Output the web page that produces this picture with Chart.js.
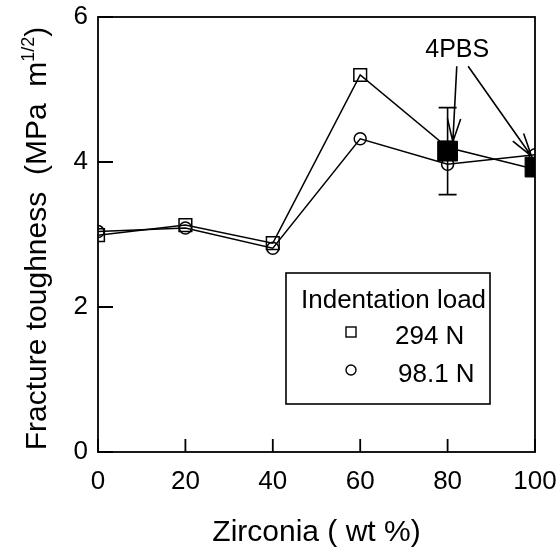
<!DOCTYPE html>
<html>
<head>
<meta charset="UTF-8">
<title>Fracture toughness vs zirconia</title>
<script src="https://cdn.jsdelivr.net/npm/chart.js"></script>
<style>
html, body { margin: 0; padding: 0; background: #fff; }
canvas { display: block; }
</style>
</head>
<body>
<canvas id="chart" width="559" height="549"></canvas>
<script>
// values
const zirconia = [0, 20, 40, 60, 80, 100];
const load294 = [2.99, 3.13, 2.88, 5.2, 4.2, 3.9];
const load98 = [3.04, 3.09, 2.81, 4.32, 3.97, 4.1];
const pbsZirconia = [80, 100];
const pbsToughness = [4.15, 3.93];
const pbsError = [0.6, 0];
const xTicks = [0, 20, 40, 60, 80, 100];
const yTicks = [0, 2, 4, 6];
const legendLabels = ["294 N", "98.1 N"];

const FONT = '"Liberation Sans", Arial, sans-serif';

// "4PBS" note, in data units
const pbsNote = { text: "4PBS", x: 82.2, y: 5.54 };
const pbsArrows = [
  { from: [82.1, 5.32], to: [81.2, 4.28] },
  { from: [84.7, 5.32], to: [99.2, 4.08] }
];

function pts(xs, ys) {
  return xs.map((x, i) => ({ x, y: ys[i] }));
}

function arrow(ctx, x1, y1, x2, y2) {
  const a = Math.atan2(y2 - y1, x2 - x1);
  const len = 24, spread = 0.28;
  ctx.beginPath();
  ctx.moveTo(x1, y1);
  ctx.lineTo(x2, y2);
  ctx.moveTo(x2 - len * Math.cos(a - spread), y2 - len * Math.sin(a - spread));
  ctx.lineTo(x2, y2);
  ctx.lineTo(x2 - len * Math.cos(a + spread), y2 - len * Math.sin(a + spread));
  ctx.stroke();
}

const decorations = {
  id: "decorations",
  beforeDatasetsDraw(chart) {
    const { ctx, scales: { x, y } } = chart;
    ctx.save();
    ctx.strokeStyle = "#000";
    ctx.lineWidth = 1.6;
    pbsZirconia.forEach((v, i) => {
      if (!pbsError[i]) return;
      const px = x.getPixelForValue(v);
      const top = y.getPixelForValue(pbsToughness[i] + pbsError[i]);
      const bot = y.getPixelForValue(pbsToughness[i] - pbsError[i]);
      ctx.beginPath();
      ctx.moveTo(px, top); ctx.lineTo(px, bot);
      ctx.moveTo(px - 9, top); ctx.lineTo(px + 9, top);
      ctx.moveTo(px - 9, bot); ctx.lineTo(px + 9, bot);
      ctx.stroke();
    });
    ctx.restore();
  },
  afterDraw(chart) {
    const { ctx, chartArea: a, scales: { x, y } } = chart;
    ctx.save();
    ctx.strokeStyle = "#000";
    ctx.fillStyle = "#000";

    // frame and inward ticks
    ctx.lineWidth = 1.8;
    ctx.strokeRect(a.left, a.top, a.right - a.left, a.bottom - a.top);
    ctx.beginPath();
    xTicks.forEach(t => {
      const px = x.getPixelForValue(t);
      ctx.moveTo(px, a.bottom); ctx.lineTo(px, a.bottom - 13);
    });
    yTicks.forEach(t => {
      const py = y.getPixelForValue(t);
      ctx.moveTo(a.left, py); ctx.lineTo(a.left + 15, py);
    });
    ctx.stroke();

    // 4PBS note with arrows
    ctx.lineWidth = 1.6;
    ctx.font = "25px " + FONT;
    ctx.textAlign = "center";
    ctx.textBaseline = "middle";
    ctx.fillText(pbsNote.text, x.getPixelForValue(pbsNote.x), y.getPixelForValue(pbsNote.y));
    pbsArrows.forEach(r => {
      arrow(ctx, x.getPixelForValue(r.from[0]), y.getPixelForValue(r.from[1]),
        x.getPixelForValue(r.to[0]), y.getPixelForValue(r.to[1]));
    });

    // legend box
    ctx.lineWidth = 1.6;
    ctx.strokeRect(286, 273, 204, 131);
    ctx.textAlign = "left";
    ctx.textBaseline = "alphabetic";
    ctx.font = "26px " + FONT;
    ctx.fillText("Indentation load", 301, 308);
    ctx.lineWidth = 1.4;
    ctx.strokeRect(346, 327, 10, 10);
    ctx.beginPath();
    ctx.arc(351, 370, 5, 0, Math.PI * 2);
    ctx.stroke();
    ctx.textBaseline = "middle";
    ctx.fillText(legendLabels[0], 395, 337);
    ctx.fillText(legendLabels[1], 398, 375);

    // axis titles
    ctx.font = "30px " + FONT;
    ctx.textAlign = "center";
    ctx.textBaseline = "alphabetic";
    ctx.fillText("Zirconia ( wt %)", (a.left + a.right) / 2, 541);

    const main = "Fracture toughness  (MPa  m";
    const sup = "1/2";
    const close = ")";
    const supFont = "18px " + FONT;
    const w1 = ctx.measureText(main).width;
    ctx.font = supFont;
    const w2 = ctx.measureText(sup).width;
    ctx.font = "30px " + FONT;
    const w3 = ctx.measureText(close).width;
    const total = w1 + w2 + w3;
    ctx.translate(46, (a.top + a.bottom) / 2 + 4);
    ctx.rotate(-Math.PI / 2);
    ctx.textAlign = "left";
    let cx = -total / 2;
    ctx.fillText(main, cx, 0);
    cx += w1;
    ctx.font = supFont;
    ctx.fillText(sup, cx, -12);
    cx += w2;
    ctx.font = "30px " + FONT;
    ctx.fillText(close, cx, 0);

    ctx.restore();
  }
};

new Chart(document.getElementById("chart"), {
  type: "scatter",
  data: {
    datasets: [
      {
        label: "4PBS",
        data: pts(pbsZirconia, pbsToughness),
        pointStyle: "rect",
        pointRadius: 14,
        backgroundColor: "#000",
        borderColor: "#000",
        showLine: false,
        order: 0
      },
      {
        label: legendLabels[0],
        data: pts(zirconia, load294),
        pointStyle: "rect",
        pointRadius: 9,
        backgroundColor: "rgba(0,0,0,0)",
        borderColor: "#000",
        borderWidth: 1.5,
        pointBorderWidth: 1.5,
        showLine: true,
        order: 1
      },
      {
        label: legendLabels[1],
        data: pts(zirconia, load98),
        pointStyle: "circle",
        pointRadius: 6,
        backgroundColor: "rgba(0,0,0,0)",
        borderColor: "#000",
        borderWidth: 1.5,
        pointBorderWidth: 1.5,
        showLine: true,
        order: 2
      }
    ]
  },
  options: {
    responsive: false,
    animation: false,
    devicePixelRatio: 1,
    layout: { padding: { left: 0, right: 24, top: 17, bottom: 0 } },
    plugins: { legend: { display: false }, tooltip: { enabled: false } },
    scales: {
      x: {
        type: "linear",
        min: 0,
        max: 100,
        afterFit: s => { s.height = 97; s.paddingLeft = 0; s.paddingRight = 0; },
        afterBuildTicks: s => { s.ticks = xTicks.map(v => ({ value: v })); },
        grid: { display: false, drawTicks: false },
        border: { display: false },
        ticks: { color: "#000", padding: 14, maxRotation: 0, font: { family: FONT, size: 26 } }
      },
      y: {
        min: 0,
        max: 6,
        afterFit: s => { s.width = 98; s.paddingTop = 0; s.paddingBottom = 0; },
        afterBuildTicks: s => { s.ticks = yTicks.map(v => ({ value: v })); },
        grid: { display: false, drawTicks: false },
        border: { display: false },
        ticks: { color: "#000", padding: 10, font: { family: FONT, size: 26 } }
      }
    }
  },
  plugins: [decorations]
});
</script>
</body>
</html>
